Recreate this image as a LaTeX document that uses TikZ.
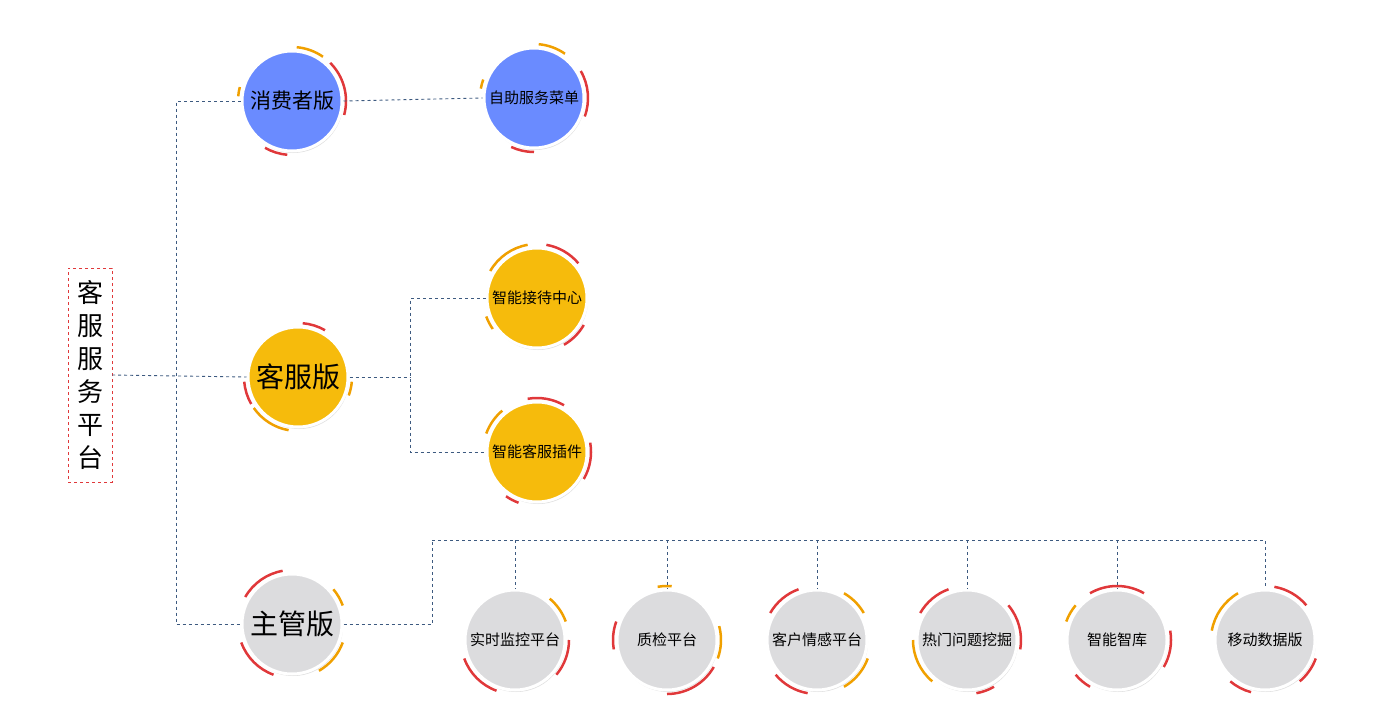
\documentclass[tikz,border=0pt]{standalone}
\usepackage{fontspec}
\setmainfont{Noto Sans CJK SC}
\usetikzlibrary{shadows}
\definecolor{linkblue}{HTML}{3D5A80}
\definecolor{ringred}{HTML}{E0383A}
\definecolor{ringgold}{HTML}{F0A000}
\definecolor{cblue}{HTML}{6A8BFF}
\definecolor{cgold}{HTML}{F6BB0C}
\definecolor{cgray}{HTML}{DCDCDE}

\tikzset{
  bubble/.style={circle, minimum size=100pt, inner sep=0pt, draw=white, line width=3pt,
    drop shadow={opacity=0.25, shadow xshift=1pt, shadow yshift=-2pt}},
  link/.style={linkblue, dashed, line width=0.9pt},
  arcr/.style={ringred, line width=2.5pt},
  arcg/.style={ringgold, line width=2.5pt}
}
% arcs around a bubble: \ringarc{node}{style}{start}{end}
\newcommand{\ringarc}[4]{\draw[#2] ($(#1.center)+(#3:54pt)$) arc[start angle=#3, end angle=#4, radius=54pt];}
\usetikzlibrary{calc}

\begin{document}
\begin{tikzpicture}[x=1pt,y=-1pt]
  \useasboundingbox (0,0) rectangle (1394,720);

  % Root
  \node[draw=ringred, dashed, minimum width=44pt, minimum height=214pt, inner sep=2pt,
        font=\fontsize{26pt}{33pt}\selectfont, align=center] (root) at (90,375)
        {客\\服\\服\\务\\平\\台};

  % Level one
  \node[bubble, fill=cblue, font=\fontsize{21pt}{24pt}\selectfont] (consumer) at (292,101) {消费者版};
  \node[bubble, fill=cgold, font=\fontsize{28pt}{30pt}\selectfont] (agent) at (298,377) {客服版};
  \node[bubble, fill=cgray, font=\fontsize{28pt}{30pt}\selectfont] (manager) at (292,624) {主管版};

  % Level two
  \node[bubble, fill=cblue, font=\fontsize{15pt}{18pt}\selectfont] (selfmenu) at (534,98) {自助服务菜单};
  \node[bubble, fill=cgold, font=\fontsize{15pt}{18pt}\selectfont] (reception) at (537,298) {智能接待中心};
  \node[bubble, fill=cgold, font=\fontsize{15pt}{18pt}\selectfont] (plugin) at (537,452) {智能客服插件};
  \node[bubble, fill=cgray, font=\fontsize{15pt}{18pt}\selectfont] (monitor) at (515,640) {实时监控平台};
  \node[bubble, fill=cgray, font=\fontsize{15pt}{18pt}\selectfont] (quality) at (667,640) {质检平台};
  \node[bubble, fill=cgray, font=\fontsize{15pt}{18pt}\selectfont] (emotion) at (817,640) {客户情感平台};
  \node[bubble, fill=cgray, font=\fontsize{15pt}{18pt}\selectfont] (hotspot) at (967,640) {热门问题挖掘};
  \node[bubble, fill=cgray, font=\fontsize{15pt}{18pt}\selectfont] (brain) at (1117,640) {智能智库};
  \node[bubble, fill=cgray, font=\fontsize{15pt}{18pt}\selectfont] (mobile) at (1265,640) {移动数据版};

  % Rings
  \ringarc{consumer}{arcg}{55}{85}
  \ringarc{consumer}{arcr}{-15}{45}
  \ringarc{consumer}{arcr}{-120}{-95}
  \ringarc{consumer}{arcg}{165}{175}
  \ringarc{selfmenu}{arcg}{55}{85}
  \ringarc{selfmenu}{arcr}{-20}{30}
  \ringarc{selfmenu}{arcr}{-115}{-90}
  \ringarc{selfmenu}{arcg}{160}{170}
  \ringarc{agent}{arcr}{60}{85}
  \ringarc{agent}{arcr}{185}{210}
  \ringarc{agent}{arcg}{215}{260}
  \ringarc{agent}{arcg}{-20}{-5}
  \ringarc{reception}{arcr}{40}{80}
  \ringarc{reception}{arcg}{100}{150}
  \ringarc{reception}{arcr}{-60}{-30}
  \ringarc{reception}{arcg}{200}{215}
  \ringarc{plugin}{arcr}{60}{100}
  \ringarc{plugin}{arcg}{130}{160}
  \ringarc{plugin}{arcr}{-30}{10}
  \ringarc{plugin}{arcr}{235}{250}
  \ringarc{manager}{arcr}{100}{150}
  \ringarc{manager}{arcg}{20}{40}
  \ringarc{manager}{arcg}{-60}{-20}
  \ringarc{manager}{arcr}{200}{250}
  \ringarc{monitor}{arcg}{20}{50}
  \ringarc{monitor}{arcr}{-40}{0}
  \ringarc{monitor}{arcr}{200}{250}
  \ringarc{quality}{arcg}{85}{100}
  \ringarc{quality}{arcg}{-20}{15}
  \ringarc{quality}{arcr}{-90}{-30}
  \ringarc{quality}{arcr}{160}{190}
  \ringarc{emotion}{arcg}{30}{60}
  \ringarc{emotion}{arcr}{110}{150}
  \ringarc{emotion}{arcg}{-60}{-20}
  \ringarc{emotion}{arcr}{220}{260}
  \ringarc{hotspot}{arcr}{110}{150}
  \ringarc{hotspot}{arcg}{180}{230}
  \ringarc{hotspot}{arcr}{-10}{40}
  \ringarc{hotspot}{arcr}{-80}{-60}
  \ringarc{brain}{arcr}{60}{120}
  \ringarc{brain}{arcg}{140}{160}
  \ringarc{brain}{arcr}{-30}{10}
  \ringarc{brain}{arcr}{220}{240}
  \ringarc{mobile}{arcr}{40}{80}
  \ringarc{mobile}{arcg}{120}{170}
  \ringarc{mobile}{arcr}{-50}{-20}
  \ringarc{mobile}{arcr}{230}{255}

  % Links
  \coordinate (trunk) at (176,377);
  \draw[link] (root.east) -- (agent.west);
  \draw[link] (consumer.west) -| (trunk) |- (manager.west);
  \draw[link] (consumer.east) -- (selfmenu.west);
  \coordinate (split) at (410,377);
  \draw[link] (agent.east) -- (split);
  \draw[link] (reception.west) -| (split) |- (plugin.west);
  \coordinate (bus) at (432,540);
  \draw[link] (manager.east) -| (bus);
  \draw[link] (bus) -| (mobile.north);
  \foreach \n in {monitor,quality,emotion,hotspot,brain}
    \draw[link] (bus -| \n.north) -- (\n.north);
\end{tikzpicture}
\end{document}
